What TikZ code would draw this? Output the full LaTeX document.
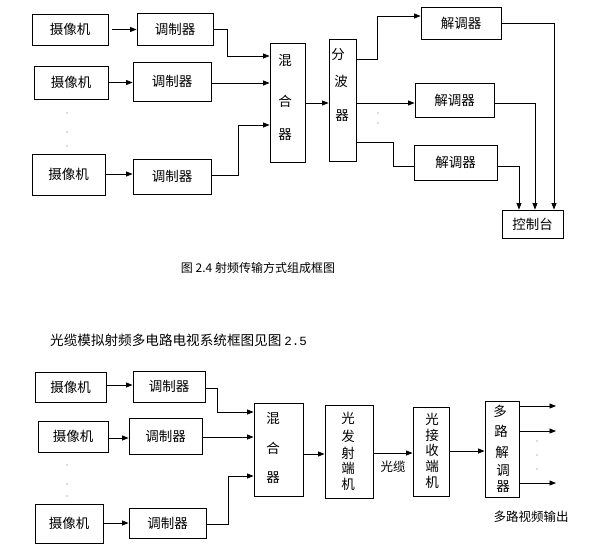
\documentclass[tikz,border=0pt]{standalone}
\usepackage{fontspec}
\newfontfamily\cjk{Noto Sans CJK SC}
\newfontfamily\monofnt{Liberation Mono}
\usetikzlibrary{arrows.meta}
\tikzset{
  box/.style={draw, line width=0.9pt, inner sep=0pt, font=\cjk\fontsize{13.5}{15}\selectfont},
  ch/.style={inner sep=0pt, font=\cjk\fontsize{13.5}{15}\selectfont},
  line/.style={line width=0.8pt},
  arr/.style={line width=0.8pt, -{Triangle[length=6.5pt,width=5pt]}},
  dot/.style={fill=black!60, draw=none}
}
\begin{document}
\begin{tikzpicture}[x=1pt,y=-1pt]
\useasboundingbox (0,0) rectangle (607,555);
% ---------- top diagram ----------
\node[box, minimum width=76pt, minimum height=31pt] (c1) at (70,29.5) {摄像机};
\node[box, minimum width=76pt, minimum height=32pt] (m1) at (175,29) {调制器};
\node[box, minimum width=74pt, minimum height=33pt] (c2) at (71,82.5) {摄像机};
\node[box, minimum width=78pt, minimum height=39pt] (m2) at (172,81.5) {调制器};
\node[box, minimum width=73pt, minimum height=41pt] (c3) at (68.5,174.5) {摄像机};
\node[box, minimum width=78pt, minimum height=35pt] (m3) at (172,176.5) {调制器};
\node[box, minimum width=35pt, minimum height=119pt] (mix) at (287.5,102.5) {};
\node[ch] (mixa) at (285,60) {混};
\node[ch] (mixb) at (285,101) {合};
\node[ch] (mixc) at (285,135) {器};
\node[box, minimum width=27pt, minimum height=122pt] (split) at (342.5,100) {};
\node[ch] (spa) at (338,55) {分};
\node[ch] (spb) at (341,81) {波};
\node[ch] (spc) at (342,116) {器};
\node[box, minimum width=80pt, minimum height=32pt] (d1) at (461,23) {解调器};
\node[box, minimum width=79pt, minimum height=34pt] (d2) at (454.5,100) {解调器};
\node[box, minimum width=83pt, minimum height=35pt] (d3) at (455.5,162.5) {解调器};
\node[box, minimum width=61pt, minimum height=28pt] (con) at (532.5,224) {控制台};

\draw[arr, shorten <=4pt] (c1.east) -- (m1.west |- c1.east);
\draw[arr] (c2.east) -- (m2.west |- c2.east);
\draw[arr] (c3.east |- 0,174) -- (m3.west |- 0,174);
\draw[arr] (m1.east) -- (227,29) |- (mix.west |- 0,56);
\draw[arr] (m2.east |- 0,83) -- (mix.west |- 0,83);
\draw[arr] (m3.east |- 0,175) -- (238,175) |- (mix.west |- 0,125);
\draw[arr] (mix.east |- 0,103) -- (split.west |- 0,103);
\draw[arr] (split.east |- 0,59) -- (377,59) |- (d1.west |- 0,16);
\draw[arr] (split.east |- 0,103) -- (d2.west |- 0,103);
\draw[line] (split.east |- 0,142) -- (393,142) |- (d3.west |- 0,166);
\draw[arr] (d1.east) -| (con.north -| 554,0);
\draw[arr] (d2.east |- 0,103) -| (con.north -| 535,0);
\draw[arr] (d3.east |- 0,166) -| (con.north -| 519,0);

\foreach \p in {{67,113},{67,132},{67,146},{378,113},{378,123}}
  \fill[dot] (\p) circle (0.6pt);

\node[inner sep=0pt, font=\cjk\fontsize{12}{14}\selectfont] (cap) at (258,268) {图 2.4 射频传输方式组成框图};
\node[inner sep=0pt, anchor=west, font=\cjk\fontsize{13.6}{16}\selectfont] (intro) at (50,340) {光缆模拟射频多电路电视系统框图见图 {\monofnt\fontsize{12.5}{15}\selectfont 2.5}};

% ---------- bottom diagram ----------
\node[box, minimum width=71pt, minimum height=30pt] (bc1) at (70.5,387) {摄像机};
\node[box, minimum width=72pt, minimum height=31pt] (bm1) at (169,386.5) {调制器};
\node[box, minimum width=70pt, minimum height=31pt] (bc2) at (73,436.5) {摄像机};
\node[box, minimum width=73pt, minimum height=36pt] (bm2) at (165.5,436) {调制器};
\node[box, minimum width=68pt, minimum height=39pt] (bc3) at (69,523.5) {摄像机};
\node[box, minimum width=77pt, minimum height=30pt] (bm3) at (167.5,523) {调制器};
\node[box, minimum width=49pt, minimum height=93pt] (bmix) at (278.5,450) {};
\node[ch] (bmixa) at (273,418) {混};
\node[ch] (bmixb) at (273,448) {合};
\node[ch] (bmixc) at (273,478) {器};
\node[box, minimum width=48pt, minimum height=93pt] (tx) at (349,451.5) {};
\node[ch] (txa) at (348,418) {光};
\node[ch] (txb) at (348,436) {发};
\node[ch] (txc) at (348,453) {射};
\node[ch] (txd) at (348,468) {端};
\node[ch] (txe) at (348,484) {机};
\node[box, minimum width=36pt, minimum height=89pt] (rx) at (431,451.5) {};
\node[ch] (rxa) at (432,419) {光};
\node[ch] (rxb) at (432,435) {接};
\node[ch] (rxc) at (432,450) {收};
\node[ch] (rxd) at (432,466) {端};
\node[ch] (rxe) at (432,482) {机};
\node[box, minimum width=34pt, minimum height=96pt] (dm) at (502,449) {};
\node[ch] (dma) at (500,411) {多};
\node[ch] (dmb) at (501,431) {路};
\node[ch] (dmc) at (502,452) {解};
\node[ch] (dmd) at (503,471) {调};
\node[ch] (dme) at (503,487) {器};

\draw[arr] (bc1.east |- 0,385) -- (bm1.west |- 0,385);
\draw[arr] (bc2.east |- 0,438) -- (bm2.west |- 0,438);
\draw[arr] (bc3.east |- 0,523) -- (bm3.west |- 0,523);
\draw[arr] (bm1.east |- 0,388) -- (217,388) |- (bmix.west |- 0,412);
\draw[arr] (bm2.east |- 0,437) -- (bmix.west |- 0,437);
\draw[arr] (bm3.east |- 0,524) -- (228,524) |- (bmix.west |- 0,476);
\draw[arr] (bmix.east |- 0,454) -- (tx.west |- 0,454);
\draw[arr] (tx.east |- 0,453) -- (rx.west |- 0,453);
\draw[arr] (rx.east |- 0,451) -- (dm.west |- 0,451);
\coordinate (o1) at (556,406);
\coordinate (o2) at (556,431);
\coordinate (o3) at (556,483);
\draw[arr] (dm.east |- o1) -- (o1);
\draw[arr] (dm.east |- o2) -- (o2);
\draw[arr] (dm.east |- o3) -- (o3);

\node[inner sep=0pt, font=\cjk\fontsize{12.5}{14}\selectfont] (cable) at (393,467) {光缆};
\node[inner sep=0pt, font=\cjk\fontsize{12.5}{14}\selectfont] (outlbl) at (531,517) {多路视频输出};

\foreach \p in {{67,465},{67,484},{67,496},{537,441},{537,455},{537,469}}
  \fill[dot] (\p) circle (0.6pt);
\end{tikzpicture}
\end{document}
